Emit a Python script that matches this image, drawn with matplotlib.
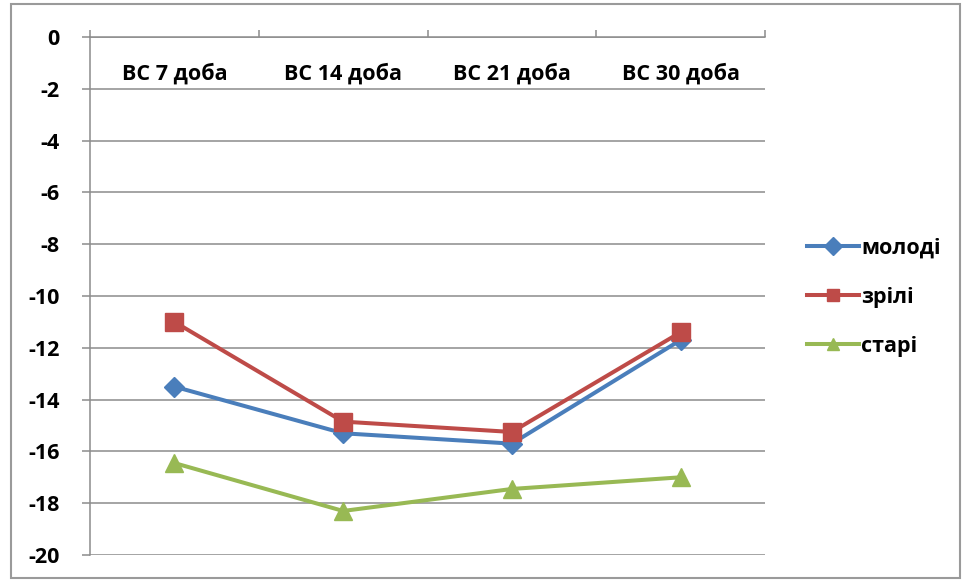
import matplotlib
matplotlib.use("Agg")
import matplotlib.pyplot as plt
from matplotlib.patches import Rectangle

categories = ["ВС 7 доба", "ВС 14 доба", "ВС 21 доба", "ВС 30 доба"]
series_names = ["молоді", "зрілі", "старі"]
molodi = [-13.5, -15.3, -15.7, -11.7]
zrili = [-11.0, -14.85, -15.25, -11.4]
stari = [-16.45, -18.3, -17.45, -17.0]
y_ticks = [0, -2, -4, -6, -8, -10, -12, -14, -16, -18, -20]

plt.rcParams['font.family'] = ['Open Sans', 'DejaVu Sans']
FS = 15.5

fig = plt.figure(figsize=(9.64, 5.80), dpi=100)
ax = fig.add_axes([90/964, 1-555/580, (765-90)/964, (555-37)/580])

x = list(range(len(categories)))
styles = [
    (molodi, "#4A7EBB", "D", 10.5),
    (zrili, "#BE4B48", "s", 12.5),
    (stari, "#98B954", "^", 13.5),
]
for (vals, col, mk, ms), name in zip(styles, series_names):
    ax.plot(x, vals, color=col, lw=2.9, marker=mk, markersize=ms,
            markerfacecolor=col, markeredgecolor=col, label=name, zorder=3)

ax.set_xlim(-0.5, 3.5)
ax.set_ylim(-20, 0)
ax.set_yticks(y_ticks)
ax.set_yticklabels([str(v) for v in y_ticks])
ax.grid(axis='y', color='#8c8c8c', lw=1.1)
ax.set_axisbelow(True)

for s in ['right', 'bottom']:
    ax.spines[s].set_visible(False)
for s in ['left', 'top']:
    ax.spines[s].set_color('#8c8c8c')
    ax.spines[s].set_linewidth(1.1)

ax.xaxis.set_ticks_position('top')
ax.set_xticks(x)
ax.set_xticklabels(categories, fontweight='bold', fontsize=FS)
ax.set_xticks([-0.5, 0.5, 1.5, 2.5, 3.5], minor=True)
ax.tick_params(axis='x', which='major', length=0, pad=-34)
ax.tick_params(axis='x', which='minor', length=5, color='#8c8c8c', width=1.1, direction='out')
ax.tick_params(axis='y', length=6, color='#8c8c8c', width=1.1, labelsize=FS, pad=16)
for lab in ax.get_yticklabels():
    lab.set_fontweight('bold')

leg = fig.legend(loc='center left', bbox_to_anchor=(788/964, 1-297/580), frameon=False,
                 prop={'weight': 'bold', 'size': FS}, handlelength=2.4, handletextpad=0.1,
                 labelspacing=1.32)
for h in leg.legend_handles:
    h.set_markersize(9)

fig.patches.append(Rectangle((11/964, 2/580), (960-11)/964, (576-2)/580,
                             transform=fig.transFigure, fill=False,
                             edgecolor='#9a9a9a', lw=1.5))

fig.savefig("out.png", dpi=100)
